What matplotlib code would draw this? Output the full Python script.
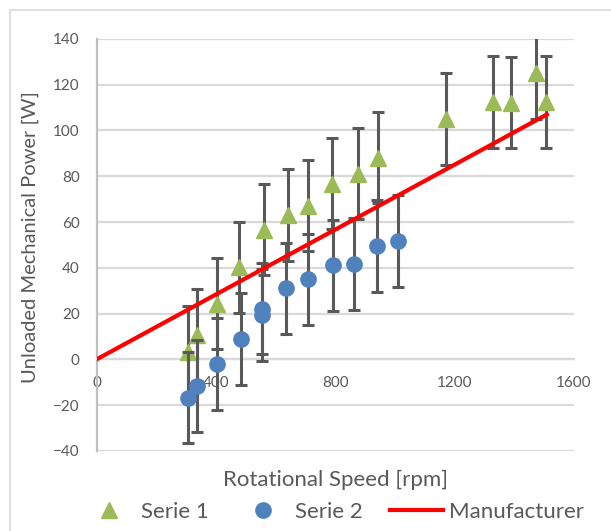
import matplotlib.pyplot as plt
from matplotlib.patches import Rectangle

# Serie 1 (triangles)
s1_rpm = [307, 338, 403, 479, 562, 643, 709, 790, 876, 943, 1172, 1329, 1388, 1474, 1506]
s1_power = [3.2, 10.6, 24.4, 40.2, 56.7, 63.2, 67.2, 76.8, 81.2, 88.2, 104.9, 112.5, 112.2, 125.1, 112.5]
# Serie 2 (circles)
s2_rpm = [307, 338, 405, 486, 554, 554, 634, 709, 794, 862, 939, 1011]
s2_power = [-16.7, -11.5, -1.9, 8.9, 22.2, 19.5, 31.0, 35.0, 41.1, 41.6, 49.5, 51.7]
err = 20

# Manufacturer line
manuf_rpm = [0, 1510]
manuf_power = [0, 107]

x_ticks = [0, 400, 800, 1200, 1600]
y_ticks = [-40, -20, 0, 20, 40, 60, 80, 100, 120, 140]

txt = "#595959"
plt.rcParams['font.family'] = ['Lato', 'DejaVu Sans']

fig = plt.figure(figsize=(6.11, 5.31), dpi=100)
ax = fig.add_axes([0.158, 0.1507, 0.781, 0.776])

# chart border
fig.patches.append(Rectangle((10 / 611, -0.1), 1.2, 1 - 10 / 531 + 0.1,
                             transform=fig.transFigure, fill=False,
                             edgecolor="#D9D9D9", lw=1.2))

ax.errorbar(s1_rpm, s1_power, yerr=err, fmt="none", ecolor="#595959",
            elinewidth=2.2, capsize=4.5, capthick=2.2, zorder=3)
ax.plot(s1_rpm, s1_power, "^", color="#9BBB59", markersize=11, zorder=4,
        label="Serie 1")
ax.errorbar(s2_rpm, s2_power, yerr=err, fmt="none", ecolor="#595959",
            elinewidth=2.2, capsize=4.5, capthick=2.2, zorder=5)
ax.plot(s2_rpm, s2_power, "o", color="#4F81BD", markersize=11, zorder=6,
        label="Serie 2")
ax.plot(manuf_rpm, manuf_power, color="#FF0000", lw=3, zorder=7,
        label="Manufacturer")

ax.set_xlim(0, 1600)
ax.set_ylim(-40, 140)
ax.set_xticks(x_ticks)
ax.set_yticks(y_ticks)
ax.yaxis.grid(True, color="#D9D9D9", lw=1.6, zorder=0)
ax.set_axisbelow(True)

ax.spines["top"].set_visible(False)
ax.spines["right"].set_visible(False)
ax.spines["bottom"].set_position(("data", 0))
ax.spines["bottom"].set_color("#D9D9D9")
ax.spines["bottom"].set_linewidth(1.6)
ax.spines["left"].set_color("#BFBFBF")
ax.spines["left"].set_linewidth(1.6)

ax.tick_params(axis="both", length=0, labelsize=11, labelcolor=txt)
ax.tick_params(axis="x", pad=12)
ax.tick_params(axis="y", pad=12)

ax.set_xlabel("Rotational Speed [rpm]", fontsize=16, color=txt)
ax.set_ylabel("Unloaded Mechanical Power [W]", fontsize=14.5, color=txt)
ax.xaxis.set_label_coords(0.5, -0.047)
ax.yaxis.set_label_coords(-0.12, 0.519)

fig.legend(loc="center", bbox_to_anchor=(0.545, 0.036), ncol=3, frameon=False,
           fontsize=16, labelcolor=txt, handlelength=2.39, handletextpad=0.23,
           columnspacing=1.26, borderpad=0)

fig.savefig("out.png", dpi=100)
